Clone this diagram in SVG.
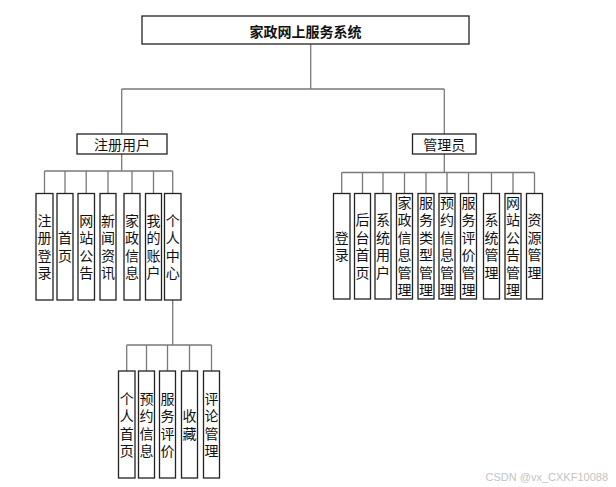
<svg xmlns="http://www.w3.org/2000/svg" width="616" height="487" viewBox="0 0 616 487">
<style>
.box{fill:#fff;stroke:#222;stroke-width:1.3}
.ln{fill:none;stroke:#7a7a7a;stroke-width:1.3}
.t{font-family:"Noto Sans CJK SC","Noto Sans CJK JP",sans-serif;font-size:14px;fill:#111;text-anchor:middle;dominant-baseline:central}
.v{writing-mode:vertical-rl;text-orientation:upright;letter-spacing:3.5px}
.title{font-weight:bold}
.wm{font-family:"Liberation Sans",Arial,sans-serif;font-size:11px;fill:#c4c4c4;text-anchor:end}
</style>
<rect width="616" height="487" fill="#fff"/>
<g id="connectors">
<path class="ln" d="M310.7 44V89M121.7 89H444.3M121.7 89V134M444.3 89V134"/>
<path class="ln" d="M121.7 154V171M44.5 171H172.7M44.5 171V193.5M65 171V193.5M86.2 171V193.5M108 171V193.5M132 171V193.5M153.5 171V193.5M172.7 171V193.5"/>
<path class="ln" d="M444.3 154V172.5M341.7 172.5H534.5M341.7 172.5V193.5M362.5 172.5V193.5M383 172.5V193.5M404.5 172.5V193.5M426 172.5V193.5M447 172.5V193.5M468.5 172.5V193.5M491.5 172.5V193.5M513 172.5V193.5M534.5 172.5V193.5"/>
<path class="ln" d="M172.7 300V345M126.7 345H211.5M126.7 345V371M146.5 345V371M167.5 345V371M189.5 345V371M211.5 345V371"/>
</g>
<g id="root"><rect class="box" x="142" y="16" width="327" height="28"/><text class="t title" x="305.5" y="30.5">家政网上服务系统</text></g>
<g id="user"><rect class="box" x="77" y="134" width="90" height="20"/><text class="t" x="122" y="144">注册用户</text></g>
<g id="admin"><rect class="box" x="412.5" y="134" width="63.5" height="20"/><text class="t" x="444.3" y="144">管理员</text></g>

<g id="u1"><rect class="box" x="36" y="193.5" width="17" height="106.5"/><text class="t v" x="44.5" y="248.45">注册登录</text></g>
<g id="u2"><rect class="box" x="57" y="193.5" width="16" height="106.5"/><text class="t v" x="65" y="248.45">首页</text></g>
<g id="u3"><rect class="box" x="78" y="193.5" width="16.5" height="106.5"/><text class="t v" x="86.2" y="248.45">网站公告</text></g>
<g id="u4"><rect class="box" x="100" y="193.5" width="16" height="106.5"/><text class="t v" x="108" y="248.45">新闻资讯</text></g>
<g id="u5"><rect class="box" x="124" y="193.5" width="16" height="106.5"/><text class="t v" x="132" y="248.45">家政信息</text></g>
<g id="u6"><rect class="box" x="145.5" y="193.5" width="16" height="106.5"/><text class="t v" x="153.5" y="248.45">我的账户</text></g>
<g id="u7"><rect class="box" x="164.5" y="193.5" width="16.5" height="106.5"/><text class="t v" x="172.7" y="248.45">个人中心</text></g>

<g id="a1"><rect class="box" x="333.5" y="193.5" width="16.5" height="105.5"/><text class="t v" x="341.7" y="247.75">登录</text></g>
<g id="a2"><rect class="box" x="354.5" y="193.5" width="16" height="105.5"/><text class="t v" x="362.5" y="247.75">后台首页</text></g>
<g id="a3"><rect class="box" x="375" y="193.5" width="16" height="105.5"/><text class="t v" x="383" y="247.75">系统用户</text></g>
<g id="a4"><rect class="box" x="396.5" y="193.5" width="16" height="105.5"/><text class="t v" x="404.5" y="247.75">家政信息管理</text></g>
<g id="a5"><rect class="box" x="418" y="193.5" width="16" height="105.5"/><text class="t v" x="426" y="247.75">服务类型管理</text></g>
<g id="a6"><rect class="box" x="439" y="193.5" width="16" height="105.5"/><text class="t v" x="447" y="247.75">预约信息管理</text></g>
<g id="a7"><rect class="box" x="460.5" y="193.5" width="16" height="105.5"/><text class="t v" x="468.5" y="247.75">服务评价管理</text></g>
<g id="a8"><rect class="box" x="483.5" y="193.5" width="16" height="105.5"/><text class="t v" x="491.5" y="247.75">系统管理</text></g>
<g id="a9"><rect class="box" x="505" y="193.5" width="16" height="105.5"/><text class="t v" x="513" y="247.75">网站公告管理</text></g>
<g id="a10"><rect class="box" x="526.5" y="193.5" width="16" height="105.5"/><text class="t v" x="534.5" y="247.75">资源管理</text></g>

<g id="c1"><rect class="box" x="118.5" y="371" width="16.5" height="107"/><text class="t v" x="126.7" y="426.25">个人首页</text></g>
<g id="c2"><rect class="box" x="138.5" y="371" width="16" height="107"/><text class="t v" x="146.5" y="426.25">预约信息</text></g>
<g id="c3"><rect class="box" x="159.5" y="371" width="16" height="107"/><text class="t v" x="167.5" y="426.25">服务评价</text></g>
<g id="c4"><rect class="box" x="181.5" y="371" width="16" height="107"/><text class="t v" x="189.5" y="426.25">收藏</text></g>
<g id="c5"><rect class="box" x="203.5" y="371" width="16" height="107"/><text class="t v" x="211.5" y="426.25">评论管理</text></g>

<text class="wm" x="608" y="481">CSDN @vx_CXKF10088</text>
</svg>
